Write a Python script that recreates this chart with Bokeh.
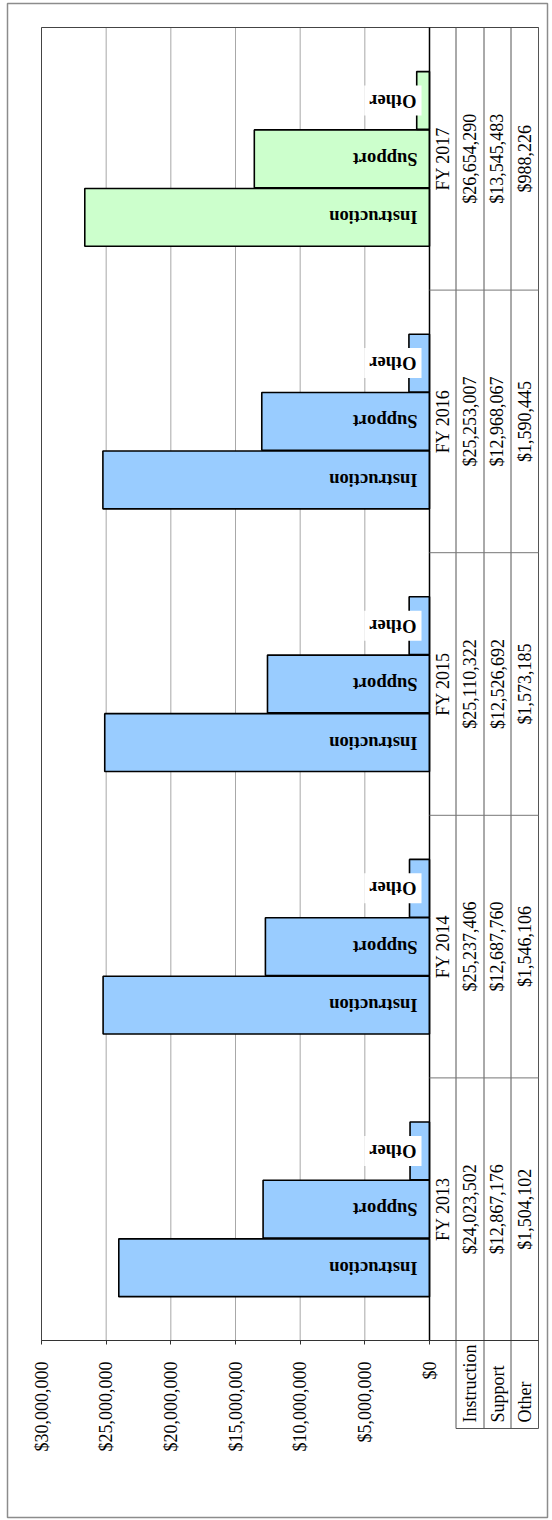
from math import pi
from bokeh.plotting import figure
from bokeh.models import (ColumnDataSource, Range1d, LabelSet, FixedTicker,
                          NumeralTickFormatter, Text)
from bokeh.core.properties import value
from bokeh.transform import dodge
from bokeh.embed import file_html
from bokeh.resources import INLINE

# ---------------- data ----------------
years = ["FY 2013", "FY 2014", "FY 2015", "FY 2016", "FY 2017"]
series = ["Instruction", "Support", "Other"]
instruction = [24023502, 25237406, 25110322, 25253007, 26654290]
support = [12867176, 12687760, 12526692, 12968067, 13545483]
other = [1504102, 1546106, 1573185, 1590445, 988226]
bar_colors = ["#99CCFF", "#99CCFF", "#99CCFF", "#99CCFF", "#CCFFCC"]
value_ticks = [0, 5000000, 10000000, 15000000, 20000000, 25000000, 30000000]

# ---------------- layout helpers (pixels -> data) ----------------
W, H = 552, 1520
P_LEFT, P_TOP, P_BOTTOM = 41, 27, 1340      # plot area
ZERO_PX = 429                               # $0 position / table start
TABLE_RIGHT = 538
HDR_BOTTOM = 1428
VPP = 30e6 / (ZERO_PX - P_LEFT)             # value per pixel
BAND = (P_BOTTOM - P_TOP) / len(years)      # pixels per category


def xv(px):
    return (ZERO_PX - px) * VPP


def yv(py):
    return (P_BOTTOM - py) / BAND


col_edges = [xv(429), xv(455.5), xv(483.5), xv(510.5), xv(TABLE_RIGHT)]
col_centers = [(col_edges[i] + col_edges[i + 1]) / 2 for i in range(4)]
ypos = [i + 0.5 for i in range(len(years))]   # category centres on the y scale

SERIF = "Liberation Serif"

src = ColumnDataSource(dict(
    year=years,
    ypos=ypos,
    instruction=instruction,
    support=support,
    other=other,
    color=bar_colors,
    zero=[0] * len(years),
    lab_i=["Instruction"] * len(years),
    lab_s=["Support"] * len(years),
    lab_o=["Other"] * len(years),
    t_i=[f"${v:,}" for v in instruction],
    t_s=[f"${v:,}" for v in support],
    t_o=[f"${v:,}" for v in other],
    c0=[col_centers[0]] * len(years),
    c1=[col_centers[1]] * len(years),
    c2=[col_centers[2]] * len(years),
    c3=[col_centers[3]] * len(years),
))

p = figure(width=W, height=H,
           x_range=Range1d(xv(0), xv(W)),
           y_range=Range1d(yv(H), yv(0)),
           output_backend="svg", toolbar_location=None,
           min_border=0, min_border_left=0, min_border_right=0,
           min_border_top=0, min_border_bottom=0)

p.background_fill_color = "white"
p.border_fill_color = "white"
p.outline_line_color = None
p.xgrid.visible = False
p.ygrid.visible = False
p.yaxis.visible = False

# value axis, fixed at the $0 baseline of the category scale
ax = p.xaxis[0]
ax.fixed_location = 0
ax.bounds = (col_edges[4], xv(P_LEFT))
ax.ticker = FixedTicker(ticks=value_ticks)
ax.formatter = NumeralTickFormatter(format="$0,0")
ax.major_label_orientation = pi / 2
ax.major_label_text_font = SERIF
ax.major_label_text_font_size = "18px"
ax.major_label_text_color = "black"
ax.major_label_standoff = 17
ax.axis_line_color = "#333333"
ax.axis_line_width = 1
ax.major_tick_out = 4
ax.major_tick_in = 0
ax.major_tick_line_color = "#333333"
ax.minor_tick_line_color = None

# outer page frame
p.quad(left=xv(7), right=xv(547), top=yv(3), bottom=yv(1517),
       fill_color=None, line_color="#8c8c8c", line_width=1.5)

# vertical gridlines at the value ticks (plot area only)
p.segment(x0=value_ticks, x1=value_ticks, y0=[0] * len(value_ticks),
          y1=[len(years)] * len(value_ticks), line_color="#a8a8a8", line_width=1)

# bars
offsets = [-0.223, 0.0, 0.222]
cols = ["instruction", "support", "other"]
for off, c in zip(offsets, cols):
    p.hbar(y=dodge("ypos", off), left=0, right=c, height=0.22,
           fill_color="color", line_color="black", line_width=1.6, source=src)

# bar labels (rotated 180 deg, anchored at the base)
text_props = Text.properties()
for off, lab, bg in zip(offsets, ["lab_i", "lab_s", "lab_o"], [None, None, "white"]):
    if bg and "padding" in text_props and "background_fill_color" in text_props:
        r = p.text(x="zero", y=dodge("ypos", off), text=lab, source=src,
                   angle=pi, x_offset=-8, text_align="left", text_baseline="middle",
                   text_font=value(SERIF), text_font_style="bold",
                   text_font_size="18.5px", text_color="black")
        r.glyph.background_fill_color = bg
        r.glyph.padding = 5
        continue
    ls = LabelSet(x="zero", y=dodge("ypos", off), text=lab,
                  source=src, angle=pi, x_offset=-12,
                  text_align="left", text_baseline="middle",
                  text_font=SERIF, text_font_style="bold", text_font_size="18.5px",
                  text_color="black")
    if bg:
        ls.background_fill_color = bg
    p.add_layout(ls)

# plot area border (left, top) and table outer edge
p.quad(left=col_edges[4], right=xv(P_LEFT), top=len(years), bottom=0,
       fill_color=None, line_color="#444444", line_width=1)
# category axis line at $0
p.segment(x0=[0], x1=[0], y0=[0], y1=[len(years)], line_color="black", line_width=1.5)

# data table: column lines (down through the row-header box)
p.segment(x0=col_edges[1:], x1=col_edges[1:], y0=[yv(HDR_BOTTOM)] * 4,
          y1=[len(years)] * 4, line_color="#555555", line_width=1)
# row-header box bottom
p.segment(x0=[col_edges[1]], x1=[col_edges[4]], y0=[yv(HDR_BOTTOM)], y1=[yv(HDR_BOTTOM)],
          line_color="#555555", line_width=1)
# band separators (table only)
bounds = [1, 2, 3, 4]
p.segment(x0=[col_edges[0]] * 4, x1=[col_edges[4]] * 4, y0=bounds, y1=bounds,
          line_color="#777777", line_width=1)

# table texts
for xcol, tcol in zip(["c0", "c1", "c2", "c3"], ["year", "t_i", "t_s", "t_o"]):
    p.add_layout(LabelSet(x=xcol, y="ypos", text=tcol, source=src, angle=pi / 2,
                          text_align="center", text_baseline="middle",
                          text_font=SERIF, text_font_size="18px", text_color="black"))

# row headers under the axis
p.text(x=col_centers[1:], y=[yv(1422)] * 3, text=series, angle=pi / 2,
       text_align="left", text_baseline="middle",
       text_font=value(SERIF), text_font_size="18px", text_color="black")

open("out.html", "w").write(file_html(p, INLINE))
